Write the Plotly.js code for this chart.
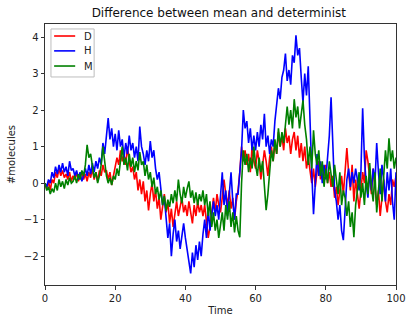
<!DOCTYPE html>
<html>
<head>
<meta charset="utf-8">
<script src="https://cdn.plot.ly/plotly-3.0.1.min.js"></script>
<style>html,body{margin:0;padding:0;background:#fff;}#chart{width:409px;height:318px;}</style>
</head>
<body>
<div id="chart"></div>
<script>
const timeStep = 0.5;
const seriesNames = ["D", "H", "M"];
const xTickVals = [0, 20, 40, 60, 80, 100];
const yTickVals = [-2, -1, 0, 1, 2, 3, 4];

const D = [
  0, -0.15, 0.05, -0.2, 0.1, 0.0, 0.3, 0.15, 0.4, 0.2,
  0.35, 0.15, 0.25, 0.1, 0.3, 0.05, 0.2, 0.1, 0.3, 0.05,
  0.2, 0.3, 0.1, 0.25, 0.05, 0.3, 0.15, 0.4, 0.1, 0.3,
  0.05, 0.35, 0.2, 0.5, 0.3, 0.35, 0.1, 0.3, -0.05, 0.2,
  0.4, 0.7, 0.5, 0.9, 0.6, 0.8, 0.5, 1.0, 0.6, 0.3,
  0.45, 0.1, 0.3, -0.2, 0.1, -0.3, 0.05, -0.5, -0.2, -0.75,
  -0.3, 0.0, -0.5, -0.2, -0.7, -0.4, -1.0, -0.6, -0.3, -0.8,
  -0.5, -1.1, -0.7, -1.2, -0.8, -0.5, -0.9, -0.6, -0.4, -0.8,
  -0.6, -0.9, -0.5, -0.8, -1.1, -0.6, -0.9, -0.5, -0.8, -0.6,
  -0.9, -0.6, -1.0, -1.5, -1.2, -0.7, -0.4, -0.8, -0.3, -0.6,
  -0.8, -0.4, 0.1, -0.3, -0.6, -0.2, -0.7, -0.4, -1.0, -0.5,
  -0.2, 0.3, 1.0, 0.6, 0.9, 0.5, 0.8, 0.3, 1.0, 0.6,
  0.4, 0.9, 0.6, 0.1, 0.5, 0.9, 0.6, 0.2, 0.7, 1.0,
  0.6, 1.1, 0.8, 1.4, 1.0, 1.3, 0.9, 1.5, 1.1, 1.3,
  0.8, 1.2, 1.4, 0.9, 1.3, 0.7, 1.1, 0.6, 1.0, 0.4,
  0.7, 0.3, 0.0, 0.4, -0.1, 0.3, 0.6, 0.1, 0.5, 0.2,
  0.5, 0.0, 0.3, -0.1, 0.2, -0.4, -0.1, -0.6, -0.2, 0.2,
  -0.3, 0.4, 0.96, 0.3, -0.2, 0.5, -0.5, 0.1, -0.3, -0.7,
  -0.2, 0.3, 0.0, 0.9, 0.6, 0.2, -0.3, 0.4, -0.1, -0.6,
  -0.2, -0.9, -0.4, 0.1, -0.5, -0.8, -0.3, -0.6, 0.1, -0.1,
  0.2
];

const H = [
  0, -0.1, 0.1, 0.0, 0.3, 0.15, 0.45, 0.25, 0.5, 0.3,
  0.55, 0.3, 0.45, 0.2, 0.6, 0.35, 0.4, 0.2, 0.35, 0.1,
  0.3, 0.05, 0.2, 0.4, 0.2, 0.5, 0.25, 0.55, 0.3, 0.6,
  0.4, 0.7, 0.5, 1.1, 0.8, 1.3, 1.78, 1.2, 1.5, 1.0,
  1.35, 0.9, 1.45, 1.0, 1.2, 0.7, 1.1, 0.8, 1.3, 0.9,
  1.1, 0.7, 1.0, 0.6, 1.55, 1.0, 0.8, 0.5, 0.9, 0.6,
  1.15, 0.7, 0.9, 0.4, 0.1, 0.3, -0.2, -0.6, -0.4, -1.0,
  -1.5, -1.1, -2.0, -1.4, -1.0, -1.6, -1.3, -1.8, -1.4, -1.1,
  -1.5, -1.8, -2.1, -2.47, -1.9, -2.3, -1.7, -2.1, -1.6, -2.0,
  -1.4, -1.0, -1.5, -0.7, -1.3, -0.9, -0.5, -0.9, -0.6, -1.0,
  -0.4, 0.3, -0.6, -0.2, -0.9, -0.4, 0.3, -0.5, -1.0, -0.3,
  -0.3, 0.3, 0.9, 2.0, 1.5, 1.7, 1.1, 1.5, 0.9, 1.3,
  0.9, 1.4, 1.0, 1.6, 1.2, 1.9, 1.0, 1.3, 0.8, 1.2,
  1.0, 1.7, 2.1, 2.6, 2.3, 2.9, 3.1, 3.55, 2.8, 3.1,
  2.7, 3.5, 3.3, 4.05, 3.5, 3.7, 2.9, 2.2, 3.0, 2.4,
  3.2, 1.5, 0.3, -0.85, 0.0, 0.8, 0.2, 0.6, 0.0, 0.5,
  0.1, 0.7, 1.3, 2.35, 0.8, -0.2, -0.5, -1.0, -0.6, -1.3,
  -1.56, -0.8, 0.1, 0.4, -0.1, 0.3, 0.0, 0.4, 0.1, -0.2,
  0.3, 2.05, 0.7, 0.0, -0.4, 0.3, -0.2, 0.4, 0.0, 1.1,
  0.3, -0.3, 0.5, 0.1, -0.5, 0.3, -0.2, 0.4, -0.5, -1.0,
  0.3
];

const M = [
  0, -0.2, -0.1, -0.3, -0.15, -0.25, 0.0, -0.2, 0.1, -0.1,
  0.05, -0.15, 0.1, -0.05, 0.15, 0.0, 0.05, 0.2, 0.0, 0.25,
  0.1, 0.35, 0.2, 0.5, 1.05, 0.7, 0.8, 0.4, 0.15, 0.3,
  0.0, 0.2, 0.5, 1.0, 0.6, 0.2, 0.0, 0.15, -0.05, 0.2,
  0.1, 0.4, 0.2, 0.6, 1.0, 0.5, 0.7, 0.35, 0.8, 0.45,
  0.7, 0.3, 0.6, 0.35, 0.85, 0.5, 0.6, 0.2, 0.5, 0.1,
  0.3, -0.1, 0.15, -0.3, -0.1, -0.45, -0.2, -0.6, -0.35, -0.75,
  -0.45, -0.65, -0.3, -0.55, -0.2, -0.5, 0.1, -0.3, -0.55, -0.1,
  -0.4, -0.15, 0.05, -0.4, -0.2, -0.55, -0.25, -0.6, -0.3, -0.5,
  -0.2, -0.6, -0.3, -0.9, -0.5, -1.2, -0.8, -1.3, -1.0, -1.5,
  -1.1, -0.8, -1.3, -0.6, -1.0, -0.5, -1.2, -0.8, -1.35, -0.9,
  -1.3, -1.48, 0.0, 0.9, 0.5, 0.8, 0.3, 0.7, 0.4, 1.0,
  0.5, 0.2, 0.7, 0.3, 0.6, -0.1, -0.74, -0.3, 0.4, 0.9,
  0.6, 1.2, 0.8, 1.5, 1.0, 1.4, 1.1, 1.7, 2.1, 1.6,
  2.0, 1.5, 2.3, 1.8, 2.1, 1.5, 1.9, 2.27, 1.6, 1.2,
  0.5, 1.0, 0.4, 1.45, 0.8, 0.5, 0.9, 0.2, 0.6, -0.1,
  0.4, 0.0, 0.6, 0.2, -0.1, 0.5, 0.1, -0.3, 0.3, -0.6,
  -0.2, -0.4, -0.9, -0.5, -1.2, -0.8, -1.48, -0.6, -0.2, 0.3,
  -0.4, 0.0, -0.6, 0.2, -0.3, 0.55, -0.1, -0.5, 0.3, -0.8,
  -0.2, 0.4, -0.5, 0.1, 0.9, 0.4, 1.23, 0.6, 0.9, 0.4,
  0.7
];

const time = D.map((_, i) => i * timeStep);
const colors = ["#ff0000", "#0000ff", "#008000"];
const allSeries = [D, H, M];

const traces = allSeries.map((ys, k) => ({
  x: time, y: ys, type: "scatter", mode: "lines", name: seriesNames[k],
  line: {color: colors[k], width: 1.6}, showlegend: false
}));

// custom matplotlib-like legend (paper coordinates)
const legendRows = [0.954, 0.897, 0.839];
const shapes = [{type: "rect", xref: "paper", yref: "paper", x0: 0.017, x1: 0.14, y0: 0.797, y1: 0.981,
  line: {color: "#bdbdbd", width: 1}, fillcolor: "rgba(255,255,255,0.85)", layer: "above"}];
const annotations = [];
seriesNames.forEach((n, k) => {
  shapes.push({type: "line", xref: "paper", yref: "paper", x0: 0.026, x1: 0.086, y0: legendRows[k], y1: legendRows[k],
    line: {color: colors[k], width: 1.6}, layer: "above"});
  annotations.push({xref: "paper", yref: "paper", x: 0.106, y: legendRows[k], xanchor: "left", yanchor: "middle",
    text: n, showarrow: false, font: {family: "DejaVu Sans, sans-serif", size: 10, color: "#222"}});
});

const font = {family: "DejaVu Sans, sans-serif", size: 10, color: "#222"};
const layout = {
  width: 409, height: 318,
  margin: {l: 45, r: 13, t: 24, b: 33, pad: 0},
  paper_bgcolor: "#fff", plot_bgcolor: "#fff",
  font: font,
  title: {text: "Difference between mean and determinist", font: {family: "DejaVu Sans, sans-serif", size: 12, color: "#111"}, x: 0.535, xanchor: "center", y: 0.96, yanchor: "middle"},
  showlegend: false,
  shapes: shapes,
  annotations: annotations,
  xaxis: {range: [0, 100], tickvals: xTickVals, ticks: "outside", ticklen: 3.5, tickcolor: "#333", showline: true, linecolor: "#333", linewidth: 1, mirror: true, showgrid: false, zeroline: false,
    title: {text: "Time", font: {family: "DejaVu Sans, sans-serif", size: 10, color: "#222"}, standoff: 4}},
  yaxis: {range: [-2.79, 4.36], tickvals: yTickVals, ticks: "outside", ticklen: 3.5, tickcolor: "#333", showline: true, linecolor: "#333", linewidth: 1, mirror: true, showgrid: false, zeroline: false,
    title: {text: "#molecules", font: {family: "DejaVu Sans, sans-serif", size: 10, color: "#222"}, standoff: 6}}
};
Plotly.newPlot("chart", traces, layout, {displayModeBar: false, staticPlot: true});
</script>
</body>
</html>
